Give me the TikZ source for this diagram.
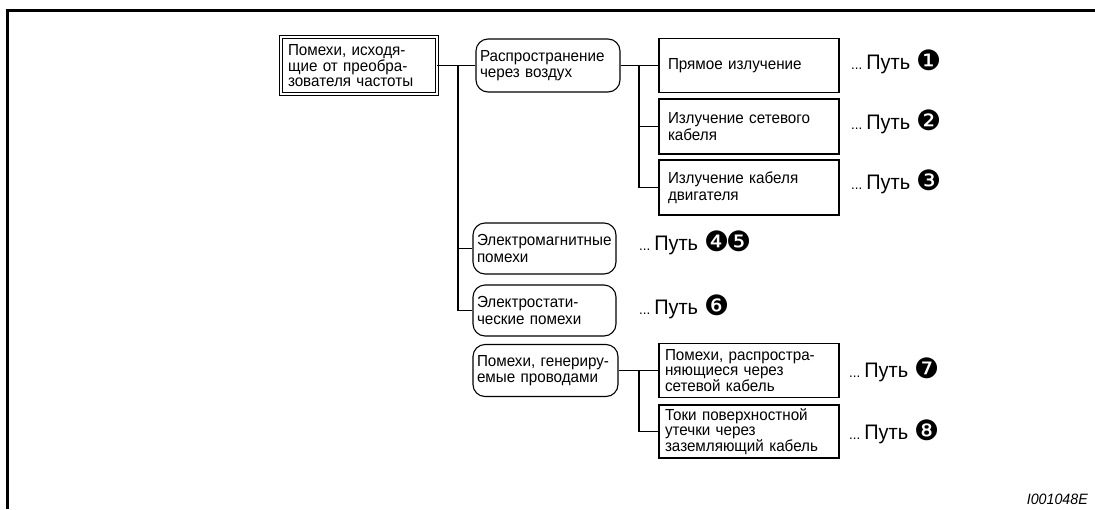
\documentclass[tikz,border=0pt]{standalone}
\usepackage{fontspec}
\setmainfont{Liberation Sans}[FakeStretch=0.95]
\newfontfamily\circfont{DejaVu Sans}
\newcommand\boxfont{\fontsize{16}{16.6}\selectfont}
\newcommand\putlab[1]{{\fontsize{14}{14}\selectfont...}\hspace{4pt}{\fontsize{21}{20}\selectfont Путь}\hspace{6pt}{\circfont\fontsize{28}{28}\selectfont\raisebox{-0.5pt}{#1}}}
\begin{document}
\begin{tikzpicture}[x=1pt,y=-1pt,
  every node/.style={font=\boxfont, align=left, inner ysep=2pt},
  sqbox/.style={draw, line width=1.1pt, inner xsep=#1, rectangle},
  sqbox/.default=8pt,
  rbox/.style={draw, line width=1.1pt, rounded corners=12pt, inner xsep=4pt},
  dbox/.style={draw, double, double distance=1.8pt, line width=0.9pt, inner xsep=6pt},
  conn/.style={line width=1.1pt},
  lab/.style={anchor=west, inner sep=0pt}]
\useasboundingbox (0,0) rectangle (1095,509);
% frame
\draw[line width=2.5pt] (7.5,509) -- (7.5,10.5) -- (1095,10.5);
% nodes
\node[dbox, minimum width=156pt, minimum height=57pt, text width=142pt,
  font=\fontsize{16}{14.6}\selectfont] (A) at (359,65.5)
  {Помехи, исходя-\\щие от преобра-\\зователя частоты};
\node[rbox, minimum width=144pt, minimum height=53pt, text width=136pt] (B) at (548,65.5)
  {Распространение\\через воздух};
\node[sqbox=9pt, minimum width=180pt, minimum height=54pt, text width=162pt] (C1) at (749,65.5)
  {Прямое излучение};
\node[sqbox=9pt, minimum width=180pt, minimum height=55pt, text width=162pt] (C2) at (749,126.5)
  {Излучение сетевого\\кабеля};
\node[sqbox=9pt, minimum width=180pt, minimum height=55pt, text width=162pt] (C3) at (749,187.5)
  {Излучение кабеля\\двигателя};
\node[rbox, minimum width=143pt, minimum height=51pt, text width=135pt] (D1) at (544.5,248.5)
  {Электромагнитные\\помехи};
\node[rbox, minimum width=143pt, minimum height=51pt, text width=135pt] (D2) at (544.5,310.5)
  {Электростати-\\ческие помехи};
\node[rbox, minimum width=145pt, minimum height=52pt, text width=137pt] (D3) at (545.5,370.5)
  {Помехи,~генериру-\\емые проводами};
\node[sqbox=6pt, minimum width=180pt, minimum height=54pt, text width=168pt,
  font=\fontsize{16}{15.6}\selectfont] (E1) at (749,370.5)
  {Помехи, распростра-\\няющиеся через\\сетевой кабель};
\node[sqbox=6pt, minimum width=180pt, minimum height=53pt, text width=168pt,
  font=\fontsize{16}{15.6}\selectfont] (E2) at (749,431.5)
  {Токи поверхностной\\утечки через\\заземляющий кабель};
% connectors
\coordinate (t1) at (458,65.5);
\coordinate (t2) at (639,65.5);
\coordinate (t3) at (639,370.5);
\draw[conn] (A.east) -- (B.west);
\draw[conn] (t1) |- (D2.west);
\draw[conn] (t1 |- D1.west) -- (D1.west);
\draw[conn] (B.east) -- (C1.west);
\draw[conn] (t2) |- (C3.west);
\draw[conn] (t2 |- C2.west) -- (C2.west);
\draw[conn] (D3.east) -- (E1.west);
\draw[conn] (t3) |- (E2.west);
% labels
\node[lab] (L1) at (851,62) {\putlab{❶}};
\node[lab] (L2) at (851,122) {\putlab{❷}};
\node[lab] (L3) at (851,182) {\putlab{❸}};
\node[lab] (L4) at (639,243) {\putlab{❹\kern-3pt❺}};
\node[lab] (L6) at (639,307) {\putlab{❻}};
\node[lab] (L7) at (849,370) {\putlab{❼}};
\node[lab] (L8) at (849,432) {\putlab{❽}};
\node[anchor=base east, inner sep=0pt, font=\fontsize{15}{16}\selectfont\itshape] (F) at (1088,504) {I001048E};
\end{tikzpicture}
\end{document}
